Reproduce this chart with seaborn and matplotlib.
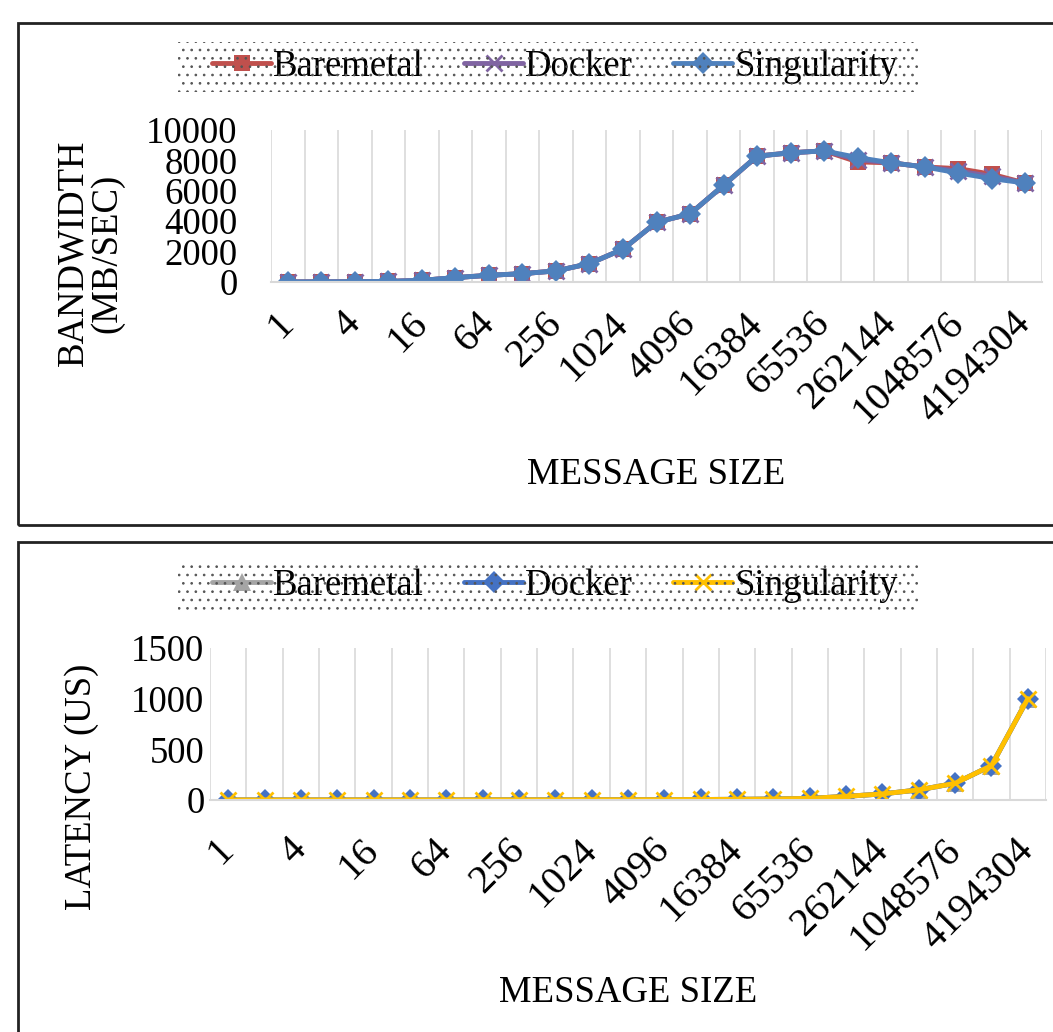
import matplotlib
matplotlib.use("Agg")
import matplotlib.pyplot as plt
import seaborn as sns
from matplotlib.patches import Rectangle
from matplotlib.transforms import ScaledTranslation

sizes = [str(2 ** i) for i in range(23)]

bw_baremetal = [5, 10, 20, 40, 110, 290, 440, 550, 730, 1210, 2160, 3930, 4480, 6360,
                8280, 8500, 8630, 7900, 7840, 7570, 7460, 7090, 6510]
bw_docker = [5, 10, 20, 40, 110, 290, 440, 550, 730, 1210, 2160, 3930, 4480, 6360,
             8280, 8500, 8630, 8050, 7840, 7570, 7300, 6950, 6510]
bw_singularity = [5, 10, 20, 40, 110, 290, 440, 550, 730, 1210, 2160, 3930, 4480, 6360,
                  8280, 8500, 8630, 8190, 7840, 7570, 7170, 6800, 6510]

lat_baremetal = [1, 1, 1, 1, 1, 1, 1, 2, 2, 2, 3, 3, 4, 5, 7, 10, 16, 36, 60, 100, 165, 340, 1000]
lat_docker = [1, 1, 1, 1, 1, 1, 1, 2, 2, 2, 3, 3, 4, 5, 7, 10, 16, 36, 60, 100, 165, 340, 1000]
lat_singularity = [1, 1, 1, 1, 1, 1, 1, 2, 2, 2, 3, 3, 4, 5, 7, 10, 16, 36, 60, 100, 165, 340, 1000]

sns.set_theme(style="white")
plt.rcParams['font.family'] = ['Liberation Serif', 'DejaVu Serif']
for k in ['text.color', 'axes.labelcolor', 'xtick.color', 'ytick.color']:
    plt.rcParams[k] = 'black'
plt.rcParams['hatch.linewidth'] = 0.7

W, H = 1053, 1032
fig = plt.figure(figsize=(W / 100, H / 100), dpi=100)

FS = 26.5
XFS = 29

def px_axes(x0, y0, x1, y1):
    return fig.add_axes([x0 / W, 1 - y1 / H, (x1 - x0) / W, (y1 - y0) / H])

def style_axes(ax, ymax, yticks, ylabel, ylab_xy, ypad, xpad):
    n = len(sizes)
    ax.set_xlim(-0.5, n - 0.5)
    ax.set_ylim(0, ymax)
    ax.set_xticks(range(0, n, 2))
    ax.set_xticklabels([sizes[i] for i in range(0, n, 2)], rotation=45,
                       ha='right', va='center', rotation_mode='anchor', fontsize=XFS)
    shift = ScaledTranslation(6 / 100, 0, fig.dpi_scale_trans)
    for lab in ax.get_xticklabels():
        lab.set_transform(lab.get_transform() + shift)
    ax.set_yticks(yticks)
    ax.set_yticklabels([str(v) for v in yticks], fontsize=FS)
    for b in [i - 0.5 for i in range(n + 1)]:
        ax.axvline(b, color='#D9D9D9', lw=1.2, zorder=0)
    for s in ['top', 'right', 'left']:
        ax.spines[s].set_visible(False)
    ax.spines['bottom'].set_color('#D9D9D9')
    ax.spines['bottom'].set_linewidth(1.5)
    ax.tick_params(axis='both', length=0)
    ax.tick_params(axis='y', pad=ypad)
    ax.tick_params(axis='x', pad=xpad)
    ax.set_ylabel(ylabel, fontsize=FS, linespacing=0.95, va='center', ha='center')
    ax.yaxis.set_label_coords(*ylab_xy)
    ax.set_xlabel("MESSAGE SIZE", fontsize=FS, va='center')
    ax.xaxis.set_label_coords(0.5, -193 / 152)
    ax.grid(False)

def add_legend(ax, cy):
    # dotted legend background
    fig.patches.append(Rectangle((178 / W, 1 - (cy + 25) / H), 740 / W, 50 / H,
                                 transform=fig.transFigure, facecolor='none',
                                 edgecolor='#555555', hatch='..', lw=0, zorder=0))
    leg = ax.legend(loc='center', bbox_to_anchor=(555 / W, 1 - cy / H), ncol=3, frameon=False,
                    fontsize=FS, handlelength=1.6, handletextpad=0.05,
                    columnspacing=1.1, borderpad=0.3,
                    bbox_transform=fig.transFigure)
    return leg

x = list(range(len(sizes)))

def draw(ax, y, label, color, marker, mew, ms):
    sns.lineplot(x=x, y=y, label=label, color=color, marker=marker, lw=3.5,
                 markersize=ms, markeredgewidth=mew, markeredgecolor=color, ax=ax)

# Top: bandwidth
x0, x1 = 271, 1042
ax1 = px_axes(x0, 130, x1, 282)
draw(ax1, bw_baremetal, 'Baremetal', '#C0504D', 's', 0, 12)
draw(ax1, bw_docker, 'Docker', '#8064A2', 'x', 2, 12)
draw(ax1, bw_singularity, 'Singularity', '#4F81BD', 'D', 0, 11)
style_axes(ax1, 10000, [0, 2000, 4000, 6000, 8000, 10000], "BANDWIDTH\n(MB/SEC)",
           ((90 - x0) / (x1 - x0), (282 - 253) / 152), 24, 26)
add_legend(ax1, 67)

# Bottom: latency
x0, x1 = 210, 1046
ax2 = px_axes(x0, 648, x1, 800)
draw(ax2, lat_baremetal, 'Baremetal', '#A5A5A5', '^', 0, 13)
draw(ax2, lat_docker, 'Docker', '#4472C4', 'D', 0, 11)
draw(ax2, lat_singularity, 'Singularity', '#FFC000', 'x', 2, 12)
style_axes(ax2, 1500, [0, 500, 1000, 1500], "LATENCY (US)",
           ((82 - x0) / (x1 - x0), (800 - 787) / 152), 4, 32)
add_legend(ax2, 586)

# panel boxes
fig.patches.append(Rectangle((18 / W, 1 - 525 / H), (W + 20) / W, (525 - 23) / H,
                             transform=fig.transFigure, fill=False, ec='#222222', lw=2))
fig.patches.append(Rectangle((18 / W, 1 - (H + 20) / H), (W + 20) / W, (H + 20 - 542) / H,
                             transform=fig.transFigure, fill=False, ec='#222222', lw=2))

fig.savefig("out.png", dpi=100)
